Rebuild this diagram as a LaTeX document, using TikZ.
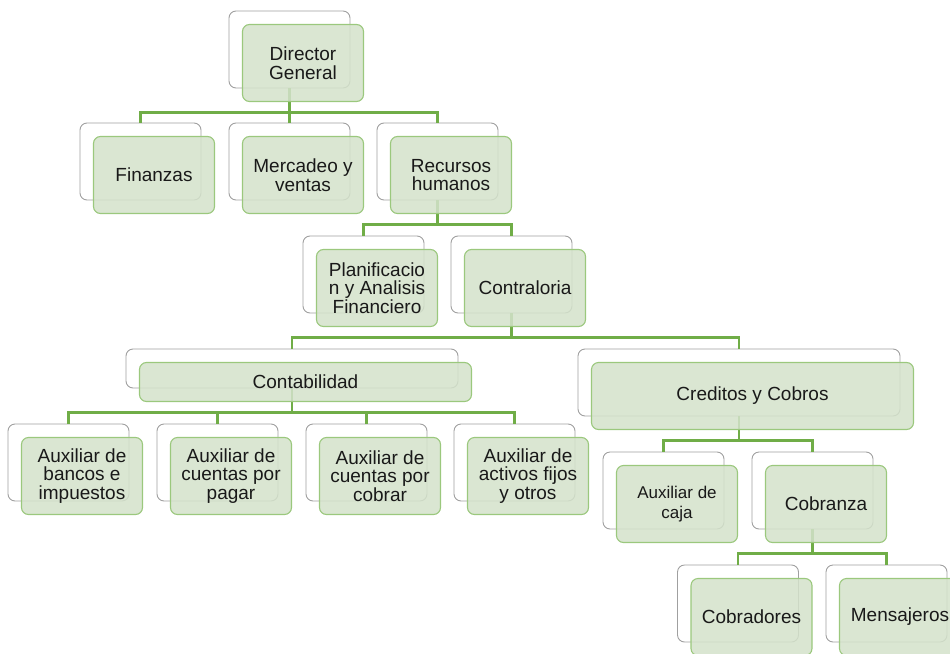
\documentclass[tikz,border=0pt]{standalone}
\usepackage{fontspec}
\setmainfont{Liberation Sans}
\usepackage{xcolor}
\usepackage{tikz}

\definecolor{framegray}{RGB}{160,160,160}
\definecolor{boxfill}{RGB}{212,226,203}
\definecolor{boxedge}{RGB}{155,200,125}
\definecolor{linkgreen}{RGB}{112,173,71}

\begin{document}
\begin{tikzpicture}[x=1pt, y=-1pt,
                back/.style={rectangle, draw=framegray, fill=white, rounded corners=7pt, line width=0.9pt, minimum width=121pt, minimum height=77pt, inner sep=0pt},
                front/.style={rectangle, draw=boxedge, fill=boxfill, fill opacity=0.86, text opacity=1, rounded corners=7pt, line width=1.1pt, minimum width=121pt, minimum height=77pt, inner sep=0pt, align=center, text=black!90, font=\fontsize{19}{18.5}\selectfont},
                link/.style={draw=linkgreen, line width=2.3pt}
            ]
                \useasboundingbox (0,0) rectangle (950,653);
                \clip (0,0) rectangle (950,653);

                % Back frames
                \node[back] (dg) at (289.5,49.5) {};

                \node[back] (fin) at (140.5,161.5) {};
                \node[back] (mer) at (289.5,161.5) {};
                \node[back] (rh) at (437.5,161.5) {};

                \node[back] (pla) at (363.5,274.5) {};
                \node[back] (con) at (511.5,274.5) {};

                \node[back, minimum width=332pt, minimum height=39pt] (cnt) at (292,368.5) {};
                \node[back, minimum width=322pt, minimum height=67pt] (cyc) at (739,382.5) {};

                \node[back] (aux1) at (68.5,462.5) {};
                \node[back] (aux2) at (217.5,462.5) {};
                \node[back] (aux3) at (366.5,462.5) {};
                \node[back] (aux4) at (514.5,462.5) {};

                \node[back] (caj) at (663.5,490.5) {};
                \node[back] (cob) at (812.5,490.5) {};

                \node[back] (cbr) at (738,603.5) {};
                \node[back] (men) at (886.5,603.5) {};

                % Connectors
                \draw[link] (dg.south) -- ++(0,24) -| (fin.north);
                \draw[link] (dg.south) -- ++(0,24) -| (mer.north);
                \draw[link] (dg.south) -- ++(0,24) -| (rh.north);

                \draw[link] (rh.south) -- ++(0,24) -| (pla.north);
                \draw[link] (rh.south) -- ++(0,24) -| (con.north);

                \draw[link] (con.south) -- ++(0,24) -| (cnt.north);
                \draw[link] (con.south) -- ++(0,24) -| (cyc.north);

                \draw[link] (cnt.south) -- ++(0,24) -| (aux1.north);
                \draw[link] (cnt.south) -- ++(0,24) -| (aux2.north);
                \draw[link] (cnt.south) -- ++(0,24) -| (aux3.north);
                \draw[link] (cnt.south) -- ++(0,24) -| (aux4.north);

                \draw[link] (cyc.south) -- ++(0,24) -| (caj.north);
                \draw[link] (cyc.south) -- ++(0,24) -| (cob.north);

                \draw[link] (cob.south) -- ++(0,24) -| (cbr.north);
                \draw[link] (cob.south) -- ++(0,24) -| (men.north);

                % Front boxes
                \node[front] (dgt) at ([shift={(13.5,13.5)}]dg.center) {Director\\General};

                \node[front] (fint) at ([shift={(13.5,13.5)}]fin.center) {Finanzas};
                \node[front] (mert) at ([shift={(13.5,13.5)}]mer.center) {Mercadeo y\\ventas};
                \node[front] (rht) at ([shift={(13.5,13.5)}]rh.center) {Recursos\\humanos};

                \node[front] (plat) at ([shift={(13.5,13.5)}]pla.center) {Planificacio\\n y Analisis\\Financiero};
                \node[front] (cont) at ([shift={(13.5,13.5)}]con.center) {Contraloria};

                \node[front, minimum width=332pt, minimum height=39pt] (cntt) at ([shift={(13.5,13.5)}]cnt.center) {Contabilidad};
                \node[front, minimum width=322pt, minimum height=67pt] (cyct) at ([shift={(13.5,13.5)}]cyc.center) {Creditos y Cobros};

                \node[front] (aux1t) at ([shift={(13.5,13.5)}]aux1.center) {Auxiliar de\\bancos e\\impuestos};
                \node[front] (aux2t) at ([shift={(13.5,13.5)}]aux2.center) {Auxiliar de\\cuentas por\\pagar};
                \node[front] (aux3t) at ([shift={(13.5,13.5)}]aux3.center) {Auxiliar de\\cuentas por\\cobrar};
                \node[front] (aux4t) at ([shift={(13.5,13.5)}]aux4.center) {Auxiliar de\\activos fijos\\y otros};

                \node[front, font=\fontsize{17}{19.5}\selectfont] (cajt) at ([shift={(13.5,13.5)}]caj.center) {Auxiliar de\\caja};
                \node[front] (cobt) at ([shift={(13.5,13.5)}]cob.center) {Cobranza};

                \node[front] (cbrt) at ([shift={(13.5,13.5)}]cbr.center) {Cobradores};
                \node[front] (ment) at ([shift={(13.5,13.5)}]men.center) {Mensajeros};
            \end{tikzpicture}
\end{document}
